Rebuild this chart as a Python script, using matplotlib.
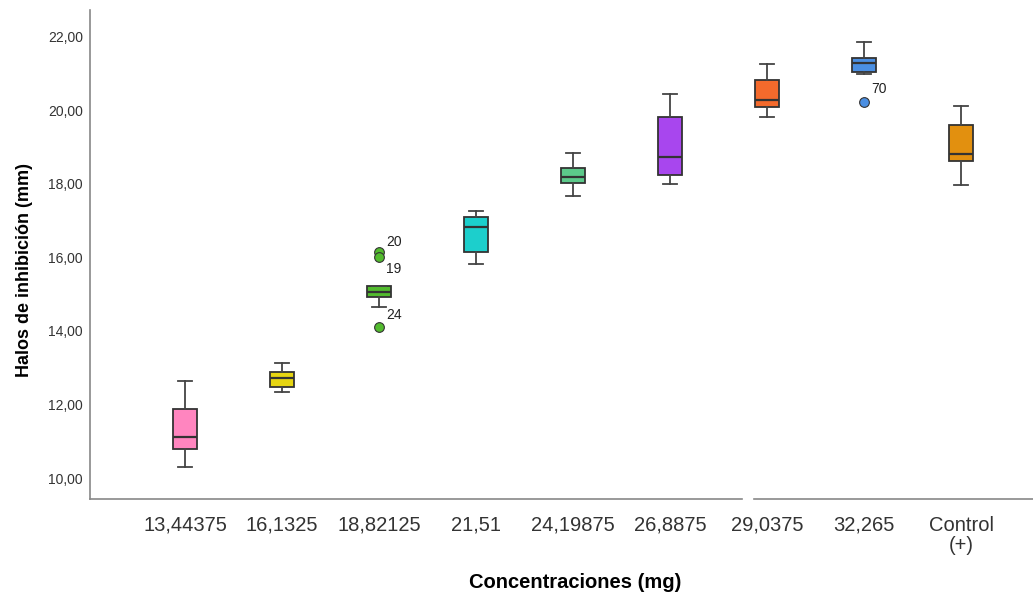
import matplotlib.pyplot as plt
import numpy as np

plt.rcParams['font.family'] = ['Liberation Sans', 'DejaVu Sans']

# Boxplot summary values
categories = ['13,44375', '16,1325', '18,82125', '21,51', '24,19875', '26,8875',
              '29,0375', '32,265', 'Control\n(+)']
whislo = [10.29, 12.35, 14.65, 15.81, 17.67, 17.99, 19.81, 20.99, 17.96]
q1 = [10.78, 12.47, 14.93, 16.14, 18.03, 18.24, 20.10, 21.03, 18.61]
med = [11.11, 12.71, 15.06, 16.84, 18.18, 18.72, 20.27, 21.30, 18.82]
q3 = [11.88, 12.88, 15.22, 17.10, 18.44, 19.81, 20.82, 21.43, 19.61]
whishi = [12.64, 13.13, 15.22, 17.25, 18.84, 20.45, 21.25, 21.85, 20.11]
fliers = [[], [], [16.16, 16.02, 14.10], [], [], [], [], [20.24], []]
flier_ids = [[], [], ['20', '19', '24'], [], [], [], [], ['70'], []]
colors = ['#FF85BF', '#E6D512', '#52BB2E', '#1CCFCC', '#5CC98A', '#A846EE',
          '#F46A2C', '#4B8FE2', '#E2900F']

stats = []
for i in range(len(categories)):
    stats.append(dict(whislo=whislo[i], q1=q1[i], med=med[i], q3=q3[i],
                      whishi=whishi[i], fliers=fliers[i]))

fig = plt.figure(figsize=(10.33, 5.98), dpi=100)
ax = fig.add_axes([0.0871, 0.1656, 0.9129, 0.8177])

pos = np.arange(1, len(categories) + 1)
bp = ax.bxp(stats, positions=pos, widths=0.25, patch_artist=True,
            boxprops=dict(edgecolor='#333333', linewidth=1.3),
            medianprops=dict(color='#333333', linewidth=1.6),
            whiskerprops=dict(color='#444444', linewidth=1.3),
            capprops=dict(color='#444444', linewidth=1.3),
            capwidths=0.14,
            flierprops=dict(marker='o', markersize=7, markeredgecolor='#333333',
                            markeredgewidth=0.8))
for box, fl, c in zip(bp['boxes'], bp['fliers'], colors):
    box.set_facecolor(c)
    fl.set_markerfacecolor(c)

# outlier case labels
offsets = {'20': (5, 4), '19': (5, -12), '24': (5, 6), '70': (5, 6)}
for i in range(len(categories)):
    for v, lab in zip(fliers[i], flier_ids[i]):
        ax.annotate(lab, (pos[i], v), xytext=offsets[lab], textcoords='offset points',
                    fontsize=10, color='#222222')

ax.set_xlim(0.02, 9.74)
ax.set_ylim(9.43, 22.73)
ax.set_yticks(np.arange(10, 23, 2))
ax.set_yticklabels([f'{t:.2f}'.replace('.', ',') for t in np.arange(10, 23, 2)],
                   fontsize=10, color='#333333')
ax.set_xticks(pos)
ax.set_xticklabels(categories, fontsize=14.5, color='#333333', linespacing=1.1)
ax.tick_params(axis='y', length=0, pad=5)
ax.tick_params(axis='x', length=0, pad=12)

for s in ['top', 'right', 'bottom']:
    ax.spines[s].set_visible(False)
ax.spines['left'].set_color('#888888')
ax.spines['left'].set_linewidth(1.2)
# bottom axis line with a small gap, as in the original
ax.plot([0, 0.691], [0, 0], transform=ax.transAxes, color='#888888', lw=1.2, clip_on=False)
ax.plot([0.704, 1], [0, 0], transform=ax.transAxes, color='#888888', lw=1.2, clip_on=False)

ax.set_ylabel('Halos de inhibición (mm)', fontsize=13, fontweight='bold')
ax.yaxis.set_label_coords(-0.060, 0.468)
ax.set_xlabel('Concentraciones (mg)', fontsize=14.5, fontweight='bold')
ax.xaxis.set_label_coords(0.514, -0.152)

fig.savefig('out.png', dpi=100)
